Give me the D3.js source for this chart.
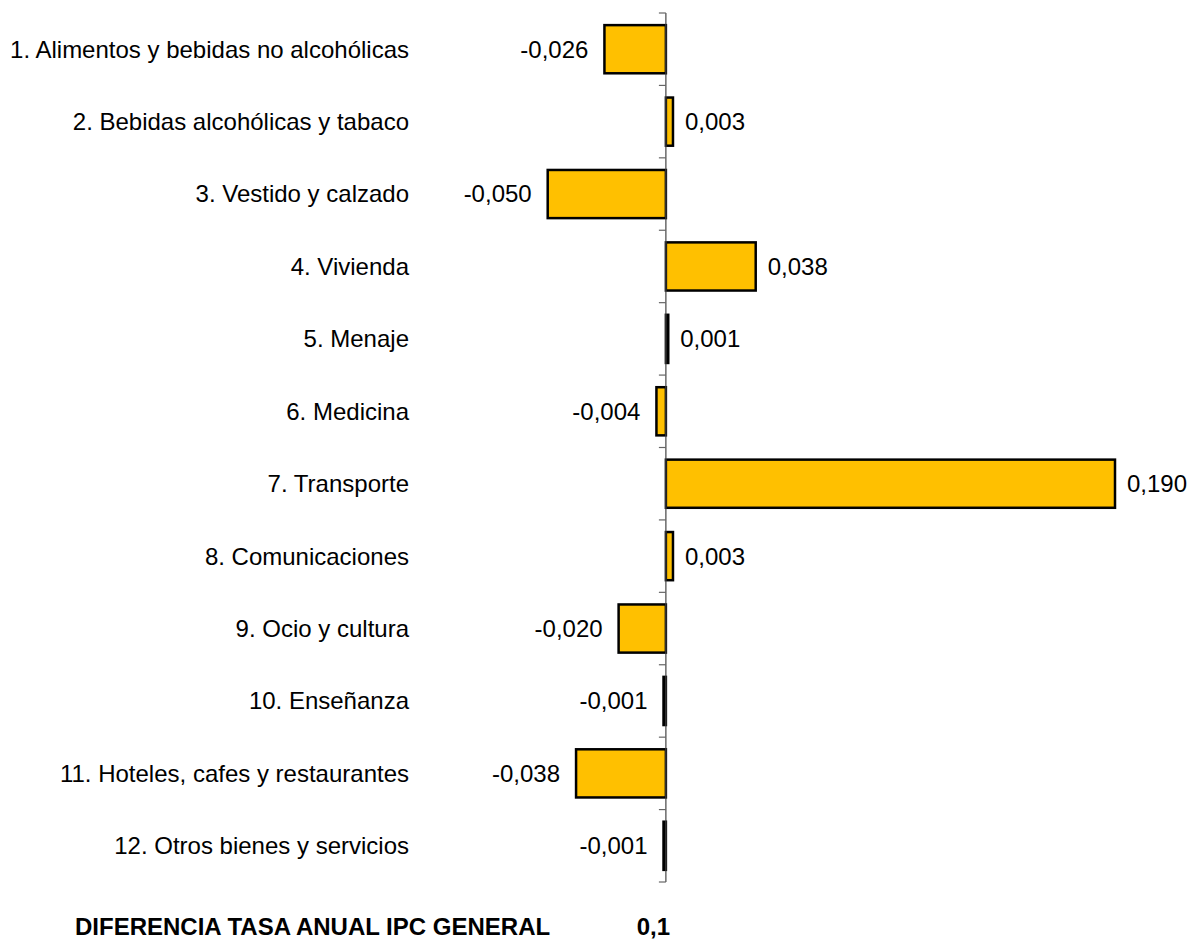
<!DOCTYPE html>
<html>
<head>
<meta charset="utf-8">
<script src="https://cdn.jsdelivr.net/npm/d3@7"></script>
<style>
  body { margin: 0; background: #fff; }
  text { font-family: "Liberation Sans", Arial, sans-serif; fill: #000; }
</style>
</head>
<body>
<div id="chart"></div>
<script>
// data
const categories = [
    "1. Alimentos y bebidas no alcohólicas",
    "2. Bebidas alcohólicas y tabaco",
    "3. Vestido y calzado",
    "4. Vivienda",
    "5. Menaje",
    "6. Medicina",
    "7. Transporte",
    "8. Comunicaciones",
    "9. Ocio y cultura",
    "10. Enseñanza",
    "11. Hoteles, cafes y restaurantes",
    "12. Otros bienes y servicios"
];
const values = [-0.026, 0.003, -0.050, 0.038, 0.001, -0.004, 0.190, 0.003, -0.020, -0.001, -0.038, -0.001];
const footerLabel = "DIFERENCIA TASA ANUAL IPC GENERAL";
const footerValue = "0,1";

const w = 1191, h = 939;
const svg = d3.select("#chart").append("svg")
    .attr("width", w)
    .attr("height", h);

// scales
const x = d3.scaleLinear()
    .domain([-0.050, 0.190])
    .range([547.7, 1115]);

const y = d3.scaleBand()
    .domain(categories)
    .range([13, 882])
    .paddingInner(0.335)
    .paddingOuter(0.1675);

// excel style number: hyphen minus, comma decimal
const fmt = v => v.toFixed(3).replace(".", ",");

// bars
svg.selectAll(".bar").data(values).enter()
    .append("rect")
    .attr("class", "bar")
    .attr("x", (d) => x(Math.min(0, d)))
    .attr("y", (d, i) => y(categories[i]))
    .attr("width", (d) => Math.abs(x(d) - x(0)))
    .attr("height", y.bandwidth())
    .style("fill", "#FFC000")
    .style("stroke", "#000")
    .style("stroke-width", 2.5);

// value labels
svg.selectAll(".val").data(values).enter()
    .append("text")
    .attr("class", "val")
    .attr("x", (d) => d >= 0 ? x(d) + 12 : x(d) - 16)
    .attr("y", (d, i) => y(categories[i]) + y.bandwidth() / 2)
    .attr("dy", "0.35em")
    .style("text-anchor", (d) => d >= 0 ? "start" : "end")
    .style("font-size", "24px")
    .text(fmt);

// category labels
svg.selectAll(".cat").data(categories).enter()
    .append("text")
    .attr("class", "cat")
    .attr("x", 409)
    .attr("y", (d) => y(d) + y.bandwidth() / 2)
    .attr("dy", "0.35em")
    .style("text-anchor", "end")
    .style("font-size", "24px")
    .text((d) => d);

// axis at zero with ticks at band boundaries
const bounds = categories.map(c => y(c) - y.step() * y.paddingInner() / 2);
bounds.push(882);
const axisG = svg.append("g").attr("transform", "translate(" + x(0) + ",0)");
axisG.append("line")
    .attr("y1", 13).attr("y2", 882)
    .style("stroke", "#444").style("stroke-width", 1.2);
axisG.selectAll(".tick").data(bounds).enter()
    .append("line")
    .attr("x1", -7).attr("x2", 0)
    .attr("y1", d => d).attr("y2", d => d)
    .style("stroke", "#666").style("stroke-width", 1.2);

// footer
svg.append("text")
    .attr("x", 75).attr("y", 935)
    .style("font-size", "24px").style("font-weight", "bold")
    .text(footerLabel);
svg.append("text")
    .attr("x", 670).attr("y", 935)
    .style("text-anchor", "end")
    .style("font-size", "24px").style("font-weight", "bold")
    .text(footerValue);
</script>
</body>
</html>
